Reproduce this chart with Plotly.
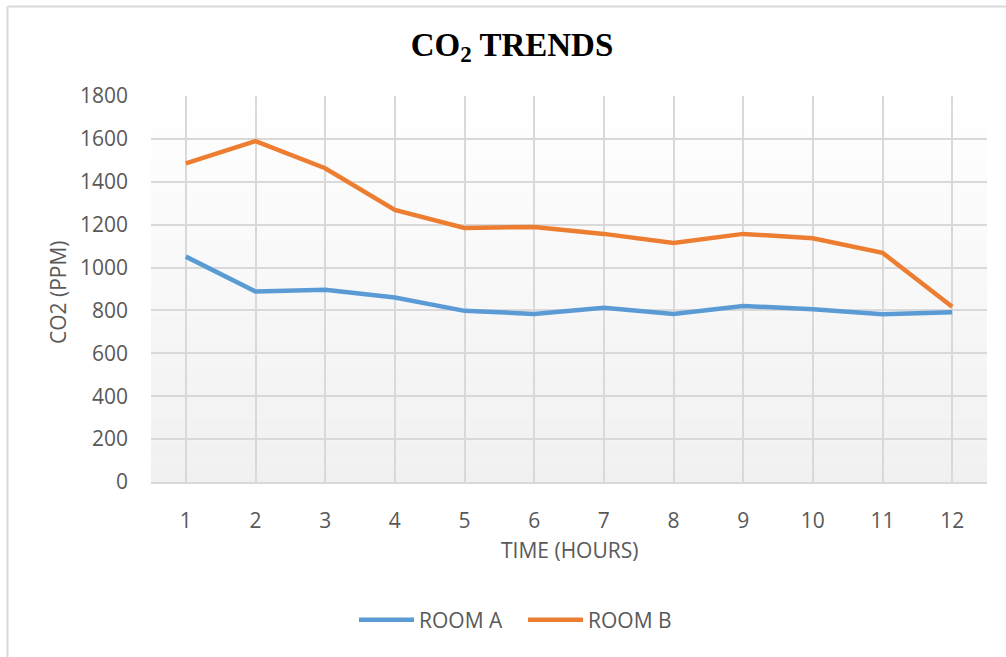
import plotly.graph_objects as go

# Hourly CO2 readings (ppm) for two rooms
hours = [1, 2, 3, 4, 5, 6, 7, 8, 9, 10, 11, 12]
room_a = [1051, 888, 896, 860, 798, 784, 812, 784, 821, 805, 782, 791]
room_b = [1486, 1590, 1463, 1269, 1185, 1189, 1157, 1115, 1157, 1137, 1069, 817]
y_ticks = [0, 200, 400, 600, 800, 1000, 1200, 1400, 1600, 1800]

W, H = 1006, 657
L, R, T, B = 151, 19, 96, 175
PW, PH = W - L - R, H - T - B


def px_x(px):
    return (px - L) / PW


def px_y(py):
    return (H - B - py) / PH


FONT = "Open Sans"
GREY = "#595959"
GRID = "#d9d9d9"

fig = go.Figure()
fig.add_trace(go.Scatter(x=hours, y=room_a, mode="lines", name="ROOM A",
                         line=dict(color="#5B9BD5", width=4.5)))
fig.add_trace(go.Scatter(x=hours, y=room_b, mode="lines", name="ROOM B",
                         line=dict(color="#ED7D31", width=4.5)))

# soft vertical gradient behind the grid
shapes = []
steps = 60
top_v, bot_v = 255, 240
for i in range(steps):
    f = (i + 0.5) / steps
    c = round(top_v + (bot_v - top_v) * f)
    shapes.append(dict(type="rect", xref="x domain", yref="y domain",
                       x0=0, x1=1, y0=1 - (i + 1) / steps, y1=1 - i / steps,
                       fillcolor=f"rgb({c},{c},{c})", line=dict(width=0),
                       layer="below"))

# chart frame (top and left edges)
shapes.append(dict(type="line", xref="paper", yref="paper",
                   x0=px_x(7.5), x1=px_x(W + 2), y0=px_y(6.5), y1=px_y(6.5),
                   line=dict(color=GRID, width=2)))
shapes.append(dict(type="line", xref="paper", yref="paper",
                   x0=px_x(7.5), x1=px_x(7.5), y0=px_y(6.5), y1=px_y(H + 2),
                   line=dict(color=GRID, width=2)))

annotations = [
    dict(text="CO2 (PPM)", xref="paper", yref="paper", x=px_x(58), y=px_y(292),
         textangle=-90, showarrow=False, xanchor="center", yanchor="middle",
         font=dict(family=FONT, size=21, color=GREY)),
    dict(text="TIME (HOURS)", xref="paper", yref="paper", x=px_x(569), y=px_y(550),
         showarrow=False, xanchor="center", yanchor="middle",
         font=dict(family=FONT, size=21, color=GREY)),
]

fig.update_layout(
    width=W, height=H,
    margin=dict(l=L, r=R, t=T, b=B),
    paper_bgcolor="white",
    plot_bgcolor="rgba(0,0,0,0)",
    title=dict(text="<b>CO<sub>2</sub> TRENDS</b>", x=512 / W, xanchor="center",
               y=1 - 44 / H, yanchor="middle",
               font=dict(family="Liberation Serif", size=33, color="black")),
    xaxis=dict(range=[0.5, 12.5], tickmode="array", tickvals=hours,
               ticktext=[str(h) for h in hours], showgrid=True, gridcolor=GRID,
               gridwidth=1.5, zeroline=False, showline=True, linecolor=GRID,
               linewidth=1.5, ticks="", ticklabelstandoff=19,
               tickfont=dict(family=FONT, size=21, color=GREY)),
    yaxis=dict(range=[0, 1800], tickmode="array", tickvals=y_ticks,
               showgrid=True, gridcolor=GRID, gridwidth=1.5, zeroline=False,
               showline=False, ticks="", ticklabelstandoff=22,
               tickfont=dict(family=FONT, size=21, color=GREY)),
    legend=dict(orientation="h", x=px_x(523), xanchor="center",
                y=px_y(620), yanchor="middle", itemwidth=55,
                entrywidth=99, entrywidthmode="pixels",
                font=dict(family=FONT, size=21, color=GREY),
                bgcolor="rgba(0,0,0,0)"),
    shapes=shapes,
    annotations=annotations,
)

fig.write_html("out.html")
